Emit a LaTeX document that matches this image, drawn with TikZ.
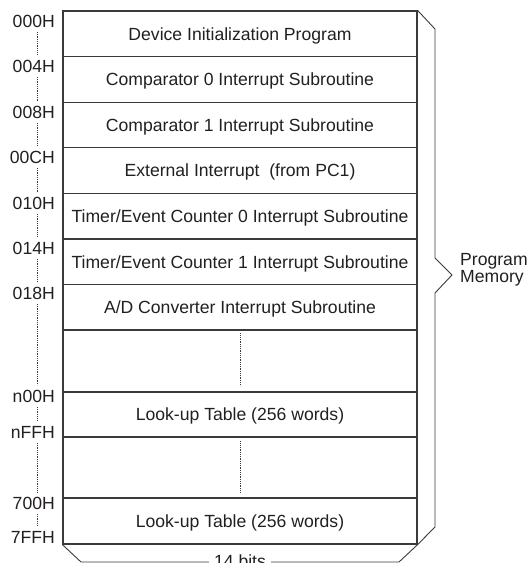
\documentclass[tikz,border=0pt]{standalone}
\usepackage{fontspec}
\setmainfont{Liberation Sans}
\definecolor{ink}{HTML}{231F20}
\definecolor{rule}{HTML}{3A3A3A}
\begin{document}
\begin{tikzpicture}[x=1pt,y=-1pt,
  txt/.style={font=\fontsize{17.6}{15}\selectfont, text=ink},
  row/.style={draw=rule, line width=1.2pt, minimum width=354pt, inner sep=0pt,
    txt, text height=12.6pt, text depth=0pt},
  addr/.style={txt, anchor=east, inner sep=0pt, text height=12.6pt, text depth=0pt},
  addrdot/.style={draw=rule, line width=0.7pt, dash pattern=on 0.7pt off 1.1pt,
    shorten <=4.5pt, shorten >=4.5pt},
  boxdot/.style={draw=rule, line width=0.7pt, dash pattern=on 0.7pt off 1.1pt},
  brace/.style={draw=rule, line width=0.9pt, line join=miter}
]
\useasboundingbox (0,0) rectangle (528,563);
% rows
\node[row, minimum height=45.6pt] (r1)  at (240,33.8)  {Device Initialization Program};
\node[row, minimum height=45.6pt] (r2)  at (240,79.4)  {Comparator 0 Interrupt Subroutine};
\node[row, minimum height=45.6pt] (r3)  at (240,124.9) {Comparator 1 Interrupt Subroutine};
\node[row, minimum height=45.6pt] (r4)  at (240,170.5) {External Interrupt\ \ (from PC1)};
\node[row, minimum height=45.6pt] (r5)  at (240,216.1) {Timer/Event Counter 0 Interrupt Subroutine};
\node[row, minimum height=45.6pt] (r6)  at (240,261.7) {Timer/Event Counter 1 Interrupt Subroutine};
\node[row, minimum height=45.6pt] (r7)  at (240,307.2) {A/D Converter Interrupt Subroutine};
\node[row, minimum height=62pt]   (r8)  at (240,361)   {};
\node[row, minimum height=45pt]   (r9)  at (240,414.5) {Look-up Table (256 words)};
\node[row, minimum height=61pt]   (r10) at (240,467.5) {};
\node[row, minimum height=46pt]   (r11) at (240,521)   {Look-up Table (256 words)};
% dotted gaps inside the box
\draw[boxdot, shorten <=4pt, shorten >=7pt] (r8.north) -- (r8.south);
\draw[boxdot, shorten <=5pt, shorten >=6pt] (r10.north) -- (r10.south);
% address labels
\node[addr] (a0) at (55,21)    {000H};
\node[addr] (a1) at (55,66)    {004H};
\node[addr] (a2) at (55,112)   {008H};
\node[addr] (a3) at (55,157)   {00CH};
\node[addr] (a4) at (55,203)   {010H};
\node[addr] (a5) at (55,248)   {014H};
\node[addr] (a6) at (55,293)   {018H};
\node[addr] (a7) at (55,396)   {n00H};
\node[addr] (a8) at (55,432)   {nFFH};
\node[addr] (a9) at (55,503)   {700H};
\node[addr] (a10) at (55,537.5) {7FFH};
\coordinate (dotx) at (37,0);
\foreach \p/\q in {a0/a1,a1/a2,a2/a3,a3/a4,a4/a5,a5/a6,a6/a7,a7/a8,a8/a9,a9/a10}
  \draw[addrdot] (\p.south -| dotx) -- (\q.north -| dotx);
% right brace
\draw[brace] (r1.north east) -- (435,29) -- (435,258) -- (452,275) -- (435,293)
  -- (435,527) -- (r11.south east);
\node[txt, anchor=north west, align=left, inner sep=0pt] (pm) at (460,253) {Program\\Memory};
% bottom brace
\draw[brace] (r11.south west) -- (81,562) -- (399,562) -- (r11.south east);
\node[txt, fill=white, inner xsep=5pt, inner ysep=1pt, text height=12.6pt, text depth=0pt]
  (bits) at (240,561.5) {14 bits};
\end{tikzpicture}
\end{document}
